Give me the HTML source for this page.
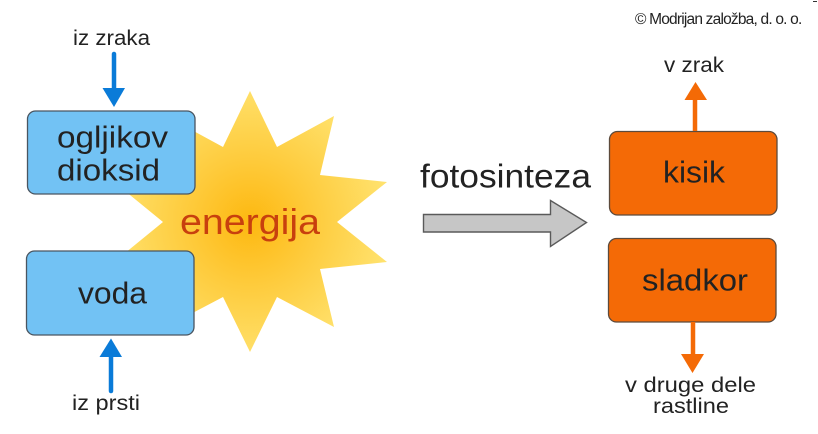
<!DOCTYPE html>
<html>
<head>
<meta charset="utf-8">
<style>
html,body{margin:0;padding:0;background:#fff;width:818px;height:434px;overflow:hidden}
svg{display:block;filter:blur(.35px)}
text{font-family:"Liberation Sans",sans-serif;fill:#222}
</style>
</head>
<body>
<svg width="818" height="434" viewBox="0 0 818 434" xmlns="http://www.w3.org/2000/svg">
<defs>
<radialGradient id="g" gradientUnits="userSpaceOnUse" cx="250" cy="222" r="140">
<stop offset="0" stop-color="#fdb810"/>
<stop offset=".45" stop-color="#fecb3c"/>
<stop offset="1" stop-color="#ffe26e"/>
</radialGradient>
</defs>
<rect width="818" height="434" fill="#fff"/>
<polygon fill="url(#g)" points="250,91 277,147 334,116 320,175 387,182 337,222 387,262 320,269 334,327 277,297 250,352 223,297 166,327 180,269 114,262 163,222 114,182 180,175 166,116 223,147"/>
<rect x="27.5" y="111" width="167.500" height="83" rx="8" fill="#72c2f4" stroke="#4a5560" stroke-width="1.300"/>
<rect x="26.500" y="251" width="167.500" height="84" rx="8" fill="#72c2f4" stroke="#4a5560" stroke-width="1.300"/>
<rect x="609.500" y="131.500" width="167.500" height="83.500" rx="8" fill="#f46a06" stroke="#5c4a3c" stroke-width="1.300"/>
<rect x="608.500" y="238.500" width="167.500" height="83.500" rx="8" fill="#f46a06" stroke="#5c4a3c" stroke-width="1.300"/>

<path d="M114 54V90" stroke="#0a7bd8" stroke-width="4.500" stroke-linecap="round"/>
<polygon points="102.500,88 125,88 114,107" fill="#0a7bd8"/>
<path d="M111 391V355" stroke="#0a7bd8" stroke-width="4.500" stroke-linecap="round"/>
<polygon points="99.500,357 122,357 111,338.500" fill="#0a7bd8"/>
<path d="M695 131V98" stroke="#f46a06" stroke-width="4.500"/>
<polygon points="684.500,100 707,100 695.500,82" fill="#f46a06"/>
<path d="M693 322V356" stroke="#f46a06" stroke-width="4.500"/>
<polygon points="681,354 704,354 692.500,373" fill="#f46a06"/>

<polygon points="423.500,214.500 550.500,214.500 550.500,200.500 586.500,222.500 550.500,246.500 550.500,232 423.500,232" fill="#c6c6c6" stroke="#5a5a5a" stroke-width="1.400"/>

<text x="73" y="45" font-size="21.500" textLength="77" lengthAdjust="spacingAndGlyphs">iz zraka</text>
<text x="57" y="147.500" font-size="30.500" textLength="111" lengthAdjust="spacingAndGlyphs">ogljikov</text>
<text x="57" y="180.500" font-size="30.500" textLength="103" lengthAdjust="spacingAndGlyphs">dioksid</text>
<text x="78" y="303.500" font-size="30.500" textLength="69" lengthAdjust="spacingAndGlyphs">voda</text>
<text x="72" y="410" font-size="21.500" textLength="68" lengthAdjust="spacingAndGlyphs">iz prsti</text>
<text x="180" y="234" font-size="36.500" textLength="140" lengthAdjust="spacingAndGlyphs" style="fill:#c8400e">energija</text>
<text x="420" y="187.500" font-size="33" textLength="171" lengthAdjust="spacingAndGlyphs">fotosinteza</text>
<text x="664" y="72" font-size="21.500" textLength="60" lengthAdjust="spacingAndGlyphs">v zrak</text>
<text x="663" y="182.500" font-size="30.500" textLength="62" lengthAdjust="spacingAndGlyphs">kisik</text>
<text x="642" y="290.500" font-size="30.500" textLength="106" lengthAdjust="spacingAndGlyphs">sladkor</text>
<text x="625" y="392" font-size="21.500" textLength="131" lengthAdjust="spacingAndGlyphs">v druge dele</text>
<text x="653" y="413" font-size="21.500" textLength="76" lengthAdjust="spacingAndGlyphs">rastline</text>
<text x="635" y="24" font-size="15.500" letter-spacing="-.8">© Modrijan založba, d. o. o.</text>
<rect x="813" y="1" width="4" height="1" fill="#333"/>
</svg>
</body>
</html>
